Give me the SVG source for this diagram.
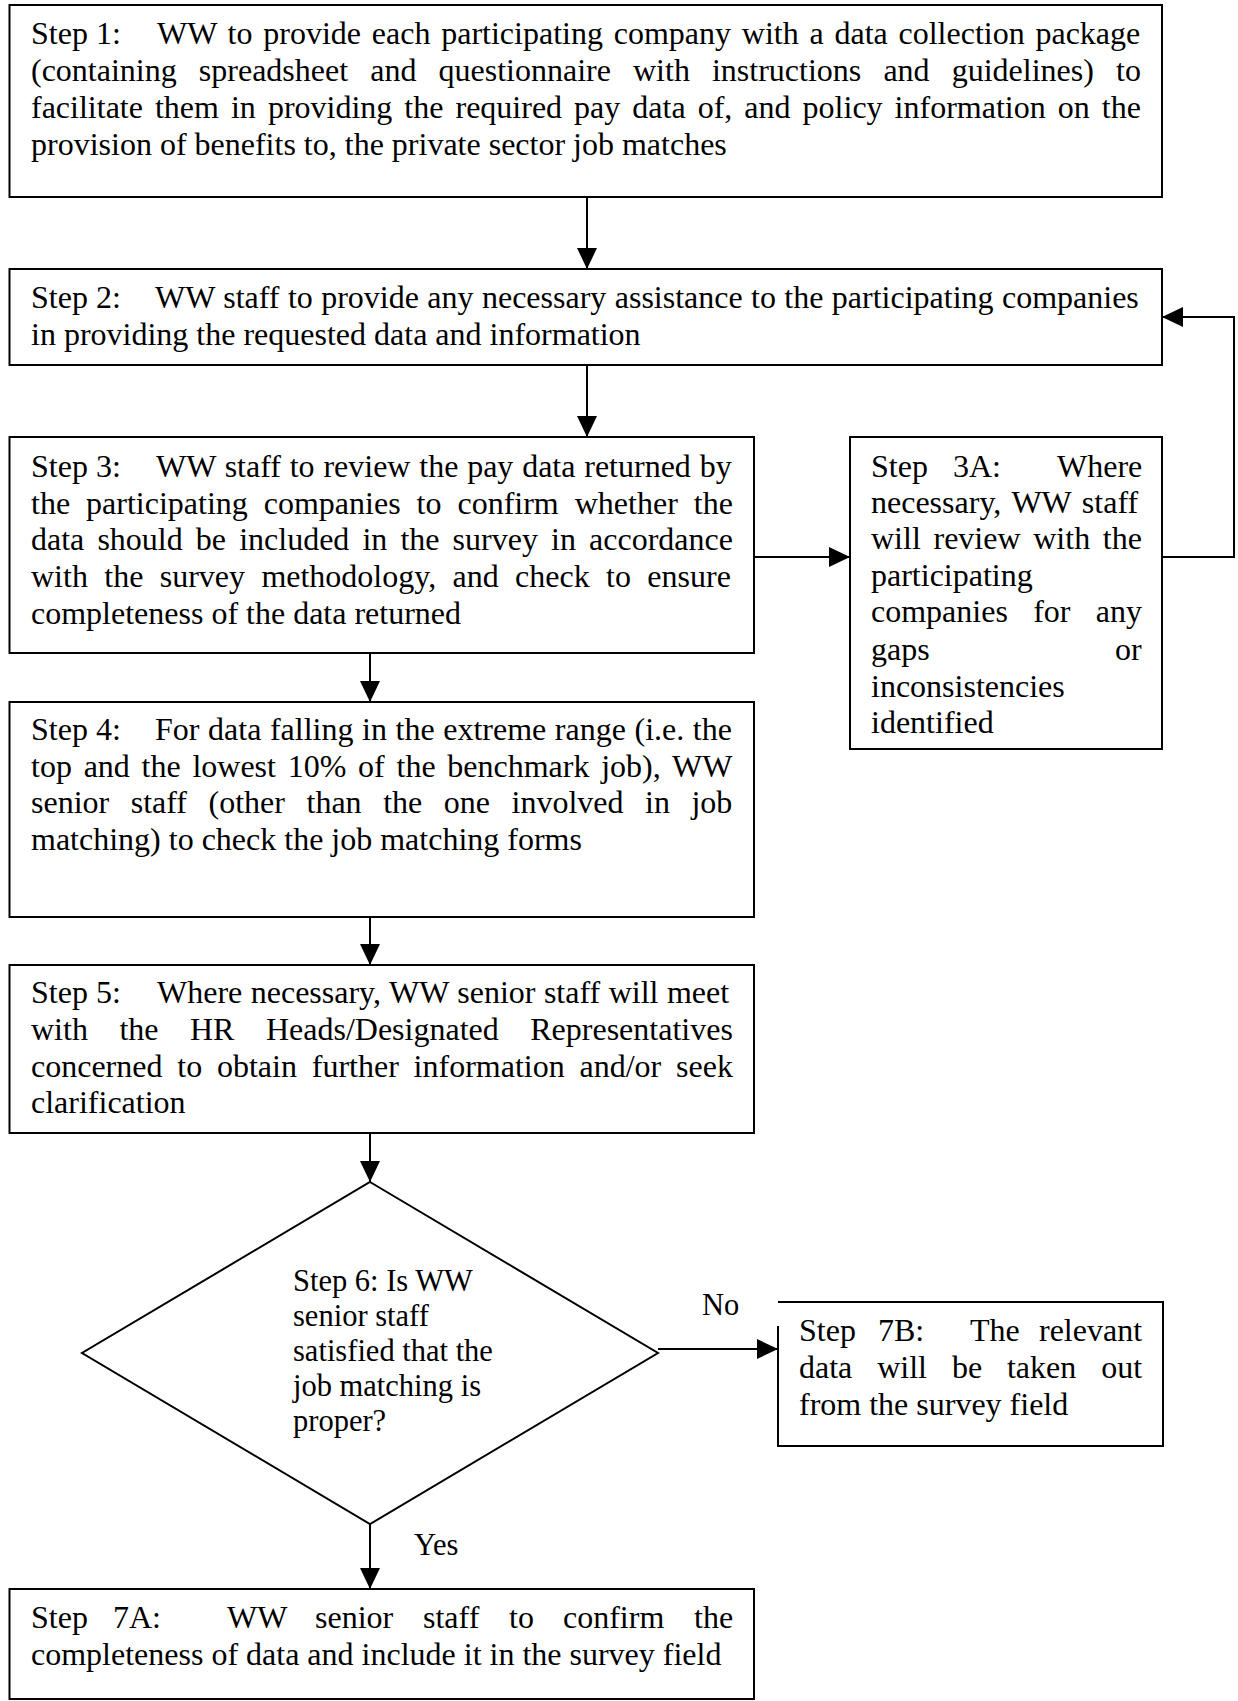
<svg xmlns="http://www.w3.org/2000/svg" width="1238" height="1701" viewBox="0 0 1238 1701">
<style>
  .box{fill:#fff;stroke:#000;stroke-width:2}
  .ln{fill:none;stroke:#000;stroke-width:2}
  text{font-family:"Liberation Serif","Times New Roman",serif;font-size:32px;fill:#000}
  .sm{font-size:30.5px}
</style>
<defs>
  <marker id="ah" markerWidth="21" markerHeight="20" refX="21" refY="10" orient="auto" markerUnits="userSpaceOnUse">
    <path d="M0,0 L21,10 L0,20 z" fill="#000"/>
  </marker>
</defs>
<rect width="1238" height="1701" fill="#fff"/>

<g id="connectors">
  <path class="ln" d="M587,197 V269" marker-end="url(#ah)"/>
  <path class="ln" d="M587,365 V437" marker-end="url(#ah)"/>
  <path class="ln" d="M754,557 H850" marker-end="url(#ah)"/>
  <path class="ln" d="M1162,557 H1234 V317 H1162" marker-end="url(#ah)"/>
  <path class="ln" d="M370,653 V702" marker-end="url(#ah)"/>
  <path class="ln" d="M370,917 V965" marker-end="url(#ah)"/>
  <path class="ln" d="M370,1133 V1182" marker-end="url(#ah)"/>
  <path class="ln" d="M658,1349 H778" marker-end="url(#ah)"/>
  <path class="ln" d="M370,1517 V1589" marker-end="url(#ah)"/>
  <text x="702" y="1315" class="sm">No</text>
  <text x="414" y="1555" class="sm">Yes</text>
</g>

<g id="step1">
  <rect class="box" x="9.5" y="5" width="1152.5" height="192"/>
  <text y="44"><tspan x="31">Step 1:</tspan><tspan x="157" style="word-spacing:2.78px">WW to provide each participating company with a data collection package</tspan></text>
  <text x="31" y="81" style="word-spacing:14.1px">(containing spreadsheet and questionnaire with instructions and guidelines) to</text>
  <text x="31" y="118" style="word-spacing:4.03px">facilitate them in providing the required pay data of, and policy information on the</text>
  <text x="31" y="155">provision of benefits to, the private sector job matches</text>
</g>

<g id="step2">
  <rect class="box" x="9.5" y="269" width="1152.5" height="96"/>
  <text y="308"><tspan x="31">Step 2:</tspan><tspan x="155" style="word-spacing:0.4px">WW staff to provide any necessary assistance to the participating companies</tspan></text>
  <text x="31" y="345">in providing the requested data and information</text>
</g>

<g id="step3">
  <rect class="box" x="9.5" y="437" width="744.5" height="216"/>
  <text y="477"><tspan x="31">Step 3:</tspan><tspan x="156" style="word-spacing:0.8px">WW staff to review the pay data returned by</tspan></text>
  <text x="31" y="514" style="word-spacing:7.98px">the participating companies to confirm whether the</text>
  <text x="31" y="550" style="word-spacing:5.1px">data should be included in the survey in accordance</text>
  <text x="31" y="587" style="word-spacing:8.36px">with the survey methodology, and check to ensure</text>
  <text x="31" y="624">completeness of the data returned</text>
</g>

<g id="step3a">
  <rect class="box" x="850" y="437" width="312" height="312"/>
  <text y="477"><tspan x="871">Step</tspan><tspan x="953">3A:</tspan><tspan x="1057">Where</tspan></text>
  <text x="871" y="513" style="word-spacing:2.66px">necessary, WW staff</text>
  <text x="871" y="549" style="word-spacing:4.7px">will review with the</text>
  <text x="871" y="586">participating</text>
  <text x="871" y="622" style="word-spacing:17.3px">companies for any</text>
  <text y="660"><tspan x="871">gaps</tspan><tspan x="1115">or</tspan></text>
  <text x="871" y="697">inconsistencies</text>
  <text x="871" y="733">identified</text>
</g>

<g id="step4">
  <rect class="box" x="9.5" y="702" width="744.5" height="215"/>
  <text y="740"><tspan x="31">Step 4:</tspan><tspan x="155" style="word-spacing:0.59px">For data falling in the extreme range (i.e. the</tspan></text>
  <text x="31" y="777" style="word-spacing:3.74px">top and the lowest 10% of the benchmark job), WW</text>
  <text x="31" y="813" style="word-spacing:13.54px">senior staff (other than the one involved in job</text>
  <text x="31" y="850">matching) to check the job matching forms</text>
</g>

<g id="step5">
  <rect class="box" x="9.5" y="965" width="744.5" height="168"/>
  <text y="1003"><tspan x="31">Step 5:</tspan><tspan x="157" style="word-spacing:0.47px">Where necessary, WW senior staff will meet</tspan></text>
  <text x="31" y="1040" style="word-spacing:23.5px">with the HR Heads/Designated Representatives</text>
  <text x="31" y="1077" style="word-spacing:6.8px">concerned to obtain further information and/or seek</text>
  <text x="31" y="1113">clarification</text>
</g>

<g id="step6">
  <polygon class="box" points="370,1182 658,1353 370,1524 82,1353"/>
  <text x="293" y="1291" class="sm">Step 6: Is WW</text>
  <text x="293" y="1326" class="sm">senior staff</text>
  <text x="293" y="1361" class="sm">satisfied that the</text>
  <text x="293" y="1396" class="sm">job matching is</text>
  <text x="293" y="1431" class="sm">proper?</text>
</g>

<g id="step7b">
  <rect x="778" y="1302" width="385" height="144" fill="#fff"/>
  <path class="ln" d="M778,1326 V1446 H1163 V1302 H778"/>
  <text y="1341"><tspan x="799">Step</tspan><tspan x="878">7B:</tspan><tspan x="970">The</tspan><tspan x="1039">relevant</tspan></text>
  <text x="799" y="1378" style="word-spacing:16.9px">data will be taken out</text>
  <text x="799" y="1415">from the survey field</text>
</g>

<g id="step7a">
  <rect class="box" x="9.5" y="1589" width="744.5" height="110"/>
  <text y="1628"><tspan x="31">Step</tspan><tspan x="113">7A:</tspan><tspan x="227">WW</tspan><tspan x="315">senior</tspan><tspan x="423">staff</tspan><tspan x="509">to</tspan><tspan x="563">confirm</tspan><tspan x="694">the</tspan></text>
  <text x="31" y="1665">completeness of data and include it in the survey field</text>
</g>
</svg>
